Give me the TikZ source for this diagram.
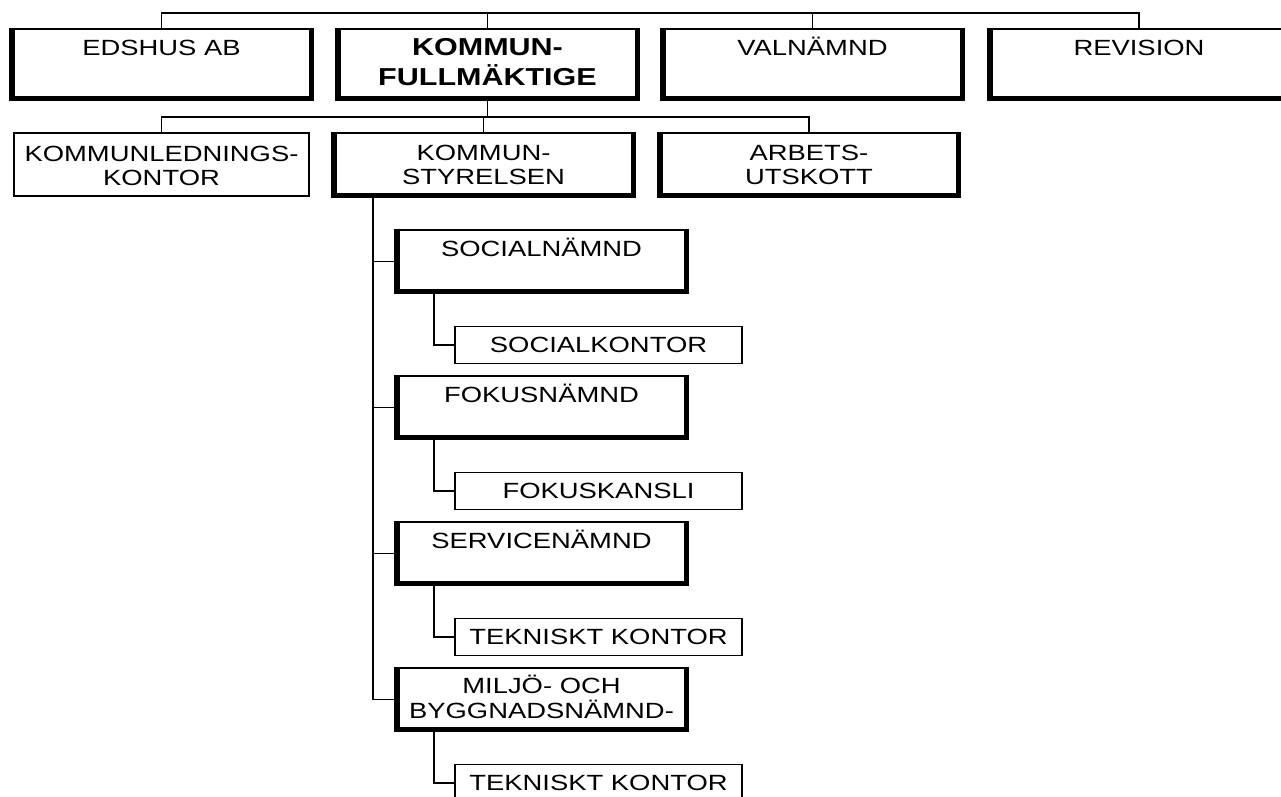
\documentclass[tikz,border=0pt]{standalone}
\usepackage{fontspec}
\setmainfont{Liberation Sans}[FakeStretch=1.245]
\usetikzlibrary{calc}
\newcommand\twol[2]{\begin{tabular}[t]{@{}c@{}}#1\\#2\end{tabular}}
\begin{document}
\begin{tikzpicture}[x=1pt,y=-1pt,
  conn/.style={line width=1.5pt},
  bigbox/.style={draw, line width=1.5pt, inner sep=0pt, outer sep=0pt, minimum width=303pt, minimum height=71pt},
  office/.style={draw, line width=1.5pt, inner sep=0pt, outer sep=0pt, minimum width=287pt, minimum height=37pt,
    text height=15.5pt, text depth=0pt, font=\fontsize{22}{25}\selectfont},
  lbl/.style={inner sep=0pt, font=\fontsize{22}{24.5}\selectfont}]
\clip (0,0) rectangle (1281,796);
% row 1
\node[bigbox] (edshus) at (161.5,64.5) {};
\node[bigbox] (kf) at (487.5,64.5) {};
\node[bigbox] (val) at (812.5,64.5) {};
\node[bigbox] (rev) at (1139,64.5) {};
% row 2
\node[draw, line width=1.5pt, inner sep=0pt, outer sep=0pt, minimum width=295pt, minimum height=63pt] (klk) at (161.5,164.5) {};
\node[bigbox, minimum height=64pt] (ks) at (483.5,165) {};
\node[bigbox, minimum width=302pt, minimum height=64pt] (arb) at (809,165) {};
% nämnder
\node[bigbox, minimum width=293pt, minimum height=63pt] (soc) at (541.5,261.5) {};
\node[bigbox, minimum width=293pt, minimum height=63pt] (fok) at (541.5,407.5) {};
\node[bigbox, minimum width=293pt, minimum height=63pt] (ser) at (541.5,553.5) {};
\node[bigbox, minimum width=293pt, minimum height=63pt] (mil) at (541.5,699.5) {};
% offices
\node[office] (sk) at (598.5,345) {SOCIALKONTOR};
\node[office] (fk) at (598.5,491) {FOKUSKANSLI};
\node[office] (tk1) at (598.5,637) {TEKNISKT KONTOR};
\node[office] (tk2) at (598.5,783) {TEKNISKT KONTOR};
% thick frame edges
\foreach \n in {edshus,kf,val,rev,ks,arb,soc,fok,ser,mil} {
  \fill (\n.north west) rectangle ([xshift=5pt]\n.south west);
  \fill ([xshift=-4pt]\n.north east) rectangle (\n.south east);
  \fill ([yshift=4pt]\n.south west) rectangle (\n.south east);
}
% texts
\node[lbl, anchor=base] (edshus-t) at ($(edshus.north)+(0,26)$) {EDSHUS AB};
\node[lbl, anchor=base, font=\bfseries\fontsize{24.5}{30}\selectfont] (kf-t) at ($(kf.north)+(0,26)$) {\twol{KOMMUN-}{FULLMÄKTIGE}};
\node[lbl, anchor=base] (val-t) at ($(val.north)+(0,26)$) {VALNÄMND};
\node[lbl, anchor=base] (rev-t) at ($(rev.north)+(0,26)$) {REVISION};
\node[lbl, anchor=base] (klk-t) at ($(klk.north)+(0,28)$) {\twol{KOMMUNLEDNINGS-}{KONTOR}};
\node[lbl, anchor=base] (ks-t) at ($(ks.north)+(0,27)$) {\twol{KOMMUN-}{STYRELSEN}};
\node[lbl, anchor=base] (arb-t) at ($(arb.north)+(0,27)$) {\twol{ARBETS-}{UTSKOTT}};
\node[lbl, anchor=base] (soc-t) at ($(soc.north)+(0,26)$) {SOCIALNÄMND};
\node[lbl, anchor=base] (fok-t) at ($(fok.north)+(0,26)$) {FOKUSNÄMND};
\node[lbl, anchor=base] (ser-t) at ($(ser.north)+(0,26)$) {SERVICENÄMND};
\node[lbl, anchor=base] (mil-t) at ($(mil.north)+(0,25)$) {\twol{MILJÖ- OCH}{BYGGNADSNÄMND-}};
% connectors
\draw[conn] (edshus.north) -- ++(0,-16) -| (rev.north);
\draw[conn] (kf.north) -- ++(0,-16);
\draw[conn] (val.north) -- ++(0,-16);
\draw[conn] (klk.north) -- ++(0,-16) -| (arb.north);
\draw[conn] (kf.south) -- ++(0,17);
\draw[conn] (ks.north) -- ++(0,-16);
\coordinate (trunk) at ($(ks.south west)+(41,0)$);
\draw[conn] (trunk) |- (mil.west);
\draw[conn] (soc.west) -- (soc.west -| trunk);
\draw[conn] (fok.west) -- (fok.west -| trunk);
\draw[conn] (ser.west) -- (ser.west -| trunk);
\draw[conn] ($(soc.south west)+(39,0)$) |- (sk.west);
\draw[conn] ($(fok.south west)+(39,0)$) |- (fk.west);
\draw[conn] ($(ser.south west)+(39,0)$) |- (tk1.west);
\draw[conn] ($(mil.south west)+(39,0)$) |- (tk2.west);
\end{tikzpicture}
\end{document}
